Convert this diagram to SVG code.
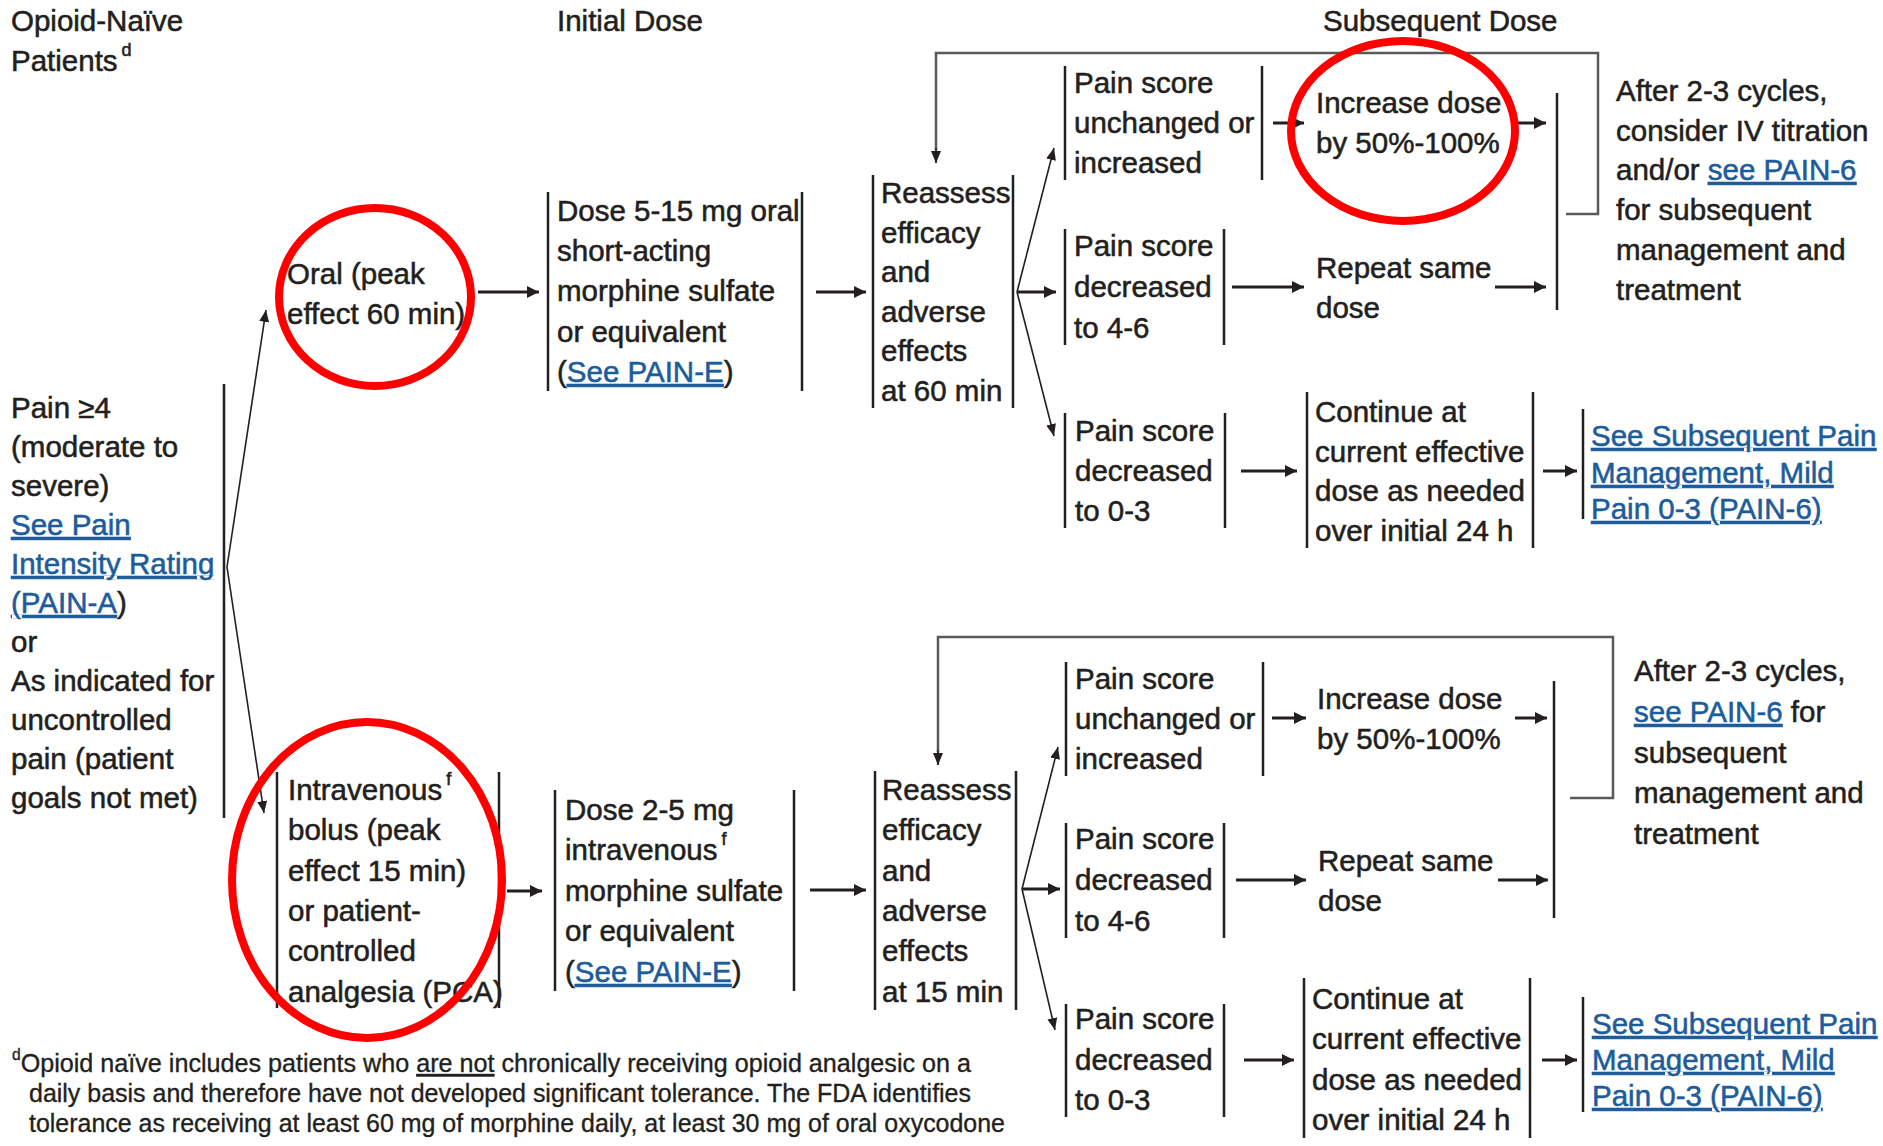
<svg xmlns="http://www.w3.org/2000/svg" width="1883" height="1146" viewBox="0 0 1883 1146">
<style>
text{font-family:"Liberation Sans",Arial,sans-serif;font-size:29.5px;fill:#231f20;stroke:#231f20;stroke-width:0.55px;}
.lk{fill:#1d5c9b;stroke:#1d5c9b;text-decoration:underline;}
.sup{font-size:18px;}
.fn{font-size:25.8px;stroke-width:0.35px;}
.ul{text-decoration:underline;}
.bar{stroke:#231f20;stroke-width:2.5;fill:none;}
.arr{stroke:#231f20;stroke-width:3;fill:none;marker-end:url(#ah);}
.thin{stroke:#231f20;stroke-width:1.6;fill:none;marker-end:url(#ahs);}
.loop{stroke:#58595b;stroke-width:2.5;fill:none;}
.loopa{stroke:#3a3a3a;stroke-width:2.2;fill:none;marker-end:url(#ahs);}
.red{fill:none;stroke:#ff0000;stroke-width:8;}
</style>
<defs>
<marker id="ah" viewBox="0 0 12 12" refX="12" refY="6" markerWidth="12" markerHeight="12" orient="auto" markerUnits="userSpaceOnUse"><path d="M0,0 L12,6 L0,12 z" fill="#231f20"/></marker>
<marker id="ahs" viewBox="0 0 12 10" refX="12" refY="5" markerWidth="12" markerHeight="10" orient="auto" markerUnits="userSpaceOnUse"><path d="M0,0 L12,5 L0,10 z" fill="#231f20"/></marker>
</defs>
<rect width="1883" height="1146" fill="#fff"/>

<g id="headers">
<text x="11" y="31">Opioid-Naïve</text>
<text x="11" y="71">Patients<tspan class="sup" dx="4" dy="-15">d</tspan></text>
<text x="557" y="31">Initial Dose</text>
<text x="1323" y="31">Subsequent Dose</text>
</g>

<g id="connectors">
<path class="loop" d="M1566,214 H1598 V53 H936 V150"/>
<line class="loopa" x1="936" y1="148" x2="936" y2="163"/>
<path class="loop" d="M1570,798 H1613 V637 H938 V752"/>
<line class="loopa" x1="938" y1="750" x2="938" y2="765"/>

<line class="thin" x1="227" y1="567" x2="266" y2="310"/>
<line class="thin" x1="227" y1="567" x2="264" y2="813"/>

<line class="arr" x1="478" y1="292" x2="539" y2="292"/>
<line class="arr" x1="816" y1="292" x2="866" y2="292"/>
<line class="thin" x1="1017" y1="292" x2="1054" y2="148"/>
<line class="arr" x1="1017" y1="292" x2="1056" y2="292"/>
<line class="thin" x1="1017" y1="292" x2="1054" y2="436"/>
<line class="arr" x1="1273" y1="123" x2="1304" y2="123"/>
<line class="arr" x1="1511" y1="123" x2="1546" y2="123"/>
<line class="arr" x1="1232" y1="287" x2="1304" y2="287"/>
<line class="arr" x1="1495" y1="287" x2="1546" y2="287"/>
<line class="arr" x1="1241" y1="471" x2="1297" y2="471"/>
<line class="arr" x1="1543" y1="471" x2="1577" y2="471"/>

<line class="arr" x1="507" y1="891" x2="542" y2="891"/>
<line class="arr" x1="810" y1="890" x2="866" y2="890"/>
<line class="thin" x1="1022" y1="889" x2="1058" y2="747"/>
<line class="arr" x1="1022" y1="889" x2="1060" y2="889"/>
<line class="thin" x1="1022" y1="889" x2="1055" y2="1030"/>
<line class="arr" x1="1272" y1="718" x2="1306" y2="718"/>
<line class="arr" x1="1515" y1="718" x2="1547" y2="718"/>
<line class="arr" x1="1236" y1="880" x2="1306" y2="880"/>
<line class="arr" x1="1498" y1="880" x2="1548" y2="880"/>
<line class="arr" x1="1244" y1="1060" x2="1294" y2="1060"/>
<line class="arr" x1="1542" y1="1060" x2="1577" y2="1060"/>
</g>

<g id="pain">
<line class="bar" x1="224" y1="384" x2="224" y2="818"/>
<text x="11" y="418">Pain ≥4</text>
<text x="11" y="457">(moderate to</text>
<text x="11" y="496">severe)</text>
<text x="11" y="535" class="lk">See Pain</text>
<text x="11" y="574" class="lk">Intensity Rating</text>
<text x="11" y="613"><tspan class="lk">(PAIN-A</tspan>)</text>
<text x="11" y="652">or</text>
<text x="11" y="691">As indicated for</text>
<text x="11" y="730">uncontrolled</text>
<text x="11" y="769">pain (patient</text>
<text x="11" y="808">goals not met)</text>
</g>

<g id="oral">
<text x="287" y="284">Oral (peak</text>
<text x="287" y="324">effect 60 min)</text>
<ellipse class="red" cx="375" cy="297" rx="96" ry="89"/>
</g>

<g id="dose1">
<line class="bar" x1="548" y1="192" x2="548" y2="391"/>
<line class="bar" x1="802" y1="192" x2="802" y2="391"/>
<text x="557" y="221">Dose 5-15 mg oral</text>
<text x="557" y="261">short-acting</text>
<text x="557" y="301">morphine sulfate</text>
<text x="557" y="342">or equivalent</text>
<text x="557" y="382">(<tspan class="lk">See PAIN-E</tspan>)</text>
</g>

<g id="reassess1">
<line class="bar" x1="873" y1="175" x2="873" y2="408"/>
<line class="bar" x1="1013" y1="175" x2="1013" y2="408"/>
<text x="881" y="203">Reassess</text>
<text x="881" y="242.5">efficacy</text>
<text x="881" y="282">and</text>
<text x="881" y="321.5">adverse</text>
<text x="881" y="361">effects</text>
<text x="881" y="400.5">at 60 min</text>
</g>

<g id="unchanged1">
<line class="bar" x1="1065" y1="66" x2="1065" y2="180"/>
<line class="bar" x1="1262" y1="66" x2="1262" y2="180"/>
<text x="1074" y="93">Pain score</text>
<text x="1074" y="133">unchanged or</text>
<text x="1074" y="173">increased</text>
</g>

<g id="dec46-1">
<line class="bar" x1="1065" y1="229" x2="1065" y2="345"/>
<line class="bar" x1="1224" y1="229" x2="1224" y2="345"/>
<text x="1074" y="256">Pain score</text>
<text x="1074" y="297">decreased</text>
<text x="1074" y="338">to 4-6</text>
</g>

<g id="dec03-1">
<line class="bar" x1="1065" y1="413" x2="1065" y2="528"/>
<line class="bar" x1="1225" y1="413" x2="1225" y2="528"/>
<text x="1075" y="441">Pain score</text>
<text x="1075" y="481">decreased</text>
<text x="1075" y="521">to 0-3</text>
</g>

<g id="increase1">
<text x="1316" y="113">Increase dose</text>
<text x="1316" y="153">by 50%-100%</text>
<ellipse class="red" cx="1403" cy="131" rx="112" ry="90"/>
</g>

<g id="repeat1">
<text x="1316" y="278">Repeat same</text>
<text x="1316" y="318">dose</text>
</g>

<g id="collect1">
<line class="bar" x1="1557" y1="93" x2="1557" y2="310"/>
</g>

<g id="after1">
<text x="1616" y="101">After 2-3 cycles,</text>
<text x="1616" y="141">consider IV titration</text>
<text x="1616" y="180">and/or <tspan class="lk">see PAIN-6</tspan></text>
<text x="1616" y="220">for subsequent</text>
<text x="1616" y="260">management and</text>
<text x="1616" y="300">treatment</text>
</g>

<g id="continue1">
<line class="bar" x1="1307" y1="392" x2="1307" y2="548"/>
<line class="bar" x1="1533" y1="392" x2="1533" y2="548"/>
<text x="1315" y="422">Continue at</text>
<text x="1315" y="462">current effective</text>
<text x="1315" y="501">dose as needed</text>
<text x="1315" y="541">over initial 24 h</text>
</g>

<g id="see1">
<line class="bar" x1="1583" y1="409" x2="1583" y2="519"/>
<text x="1591" y="446" class="lk">See Subsequent Pain</text>
<text x="1591" y="483" class="lk">Management, Mild</text>
<text x="1591" y="519" class="lk">Pain 0-3 (PAIN-6)</text>
</g>

<g id="iv">
<line class="bar" x1="277" y1="772" x2="277" y2="1008"/>
<line class="bar" x1="499" y1="772" x2="499" y2="1008"/>
<text x="288" y="800">Intravenous<tspan class="sup" dx="4" dy="-15">f</tspan></text>
<text x="288" y="840">bolus (peak</text>
<text x="288" y="881">effect 15 min)</text>
<text x="288" y="921">or patient-</text>
<text x="288" y="961">controlled</text>
<text x="288" y="1002">analgesia (PCA)</text>
<ellipse class="red" cx="367" cy="880" rx="135" ry="158"/>
</g>

<g id="dose2">
<line class="bar" x1="555" y1="790" x2="555" y2="991"/>
<line class="bar" x1="794" y1="790" x2="794" y2="991"/>
<text x="565" y="820">Dose 2-5 mg</text>
<text x="565" y="860">intravenous<tspan class="sup" dx="4" dy="-15">f</tspan></text>
<text x="565" y="901">morphine sulfate</text>
<text x="565" y="941">or equivalent</text>
<text x="565" y="982">(<tspan class="lk">See PAIN-E</tspan>)</text>
</g>

<g id="reassess2">
<line class="bar" x1="875" y1="771" x2="875" y2="1010"/>
<line class="bar" x1="1016" y1="771" x2="1016" y2="1010"/>
<text x="882" y="800">Reassess</text>
<text x="882" y="840">efficacy</text>
<text x="882" y="881">and</text>
<text x="882" y="921">adverse</text>
<text x="882" y="961">effects</text>
<text x="882" y="1002">at 15 min</text>
</g>

<g id="unchanged2">
<line class="bar" x1="1066" y1="662" x2="1066" y2="776"/>
<line class="bar" x1="1263" y1="662" x2="1263" y2="776"/>
<text x="1075" y="689">Pain score</text>
<text x="1075" y="729">unchanged or</text>
<text x="1075" y="769">increased</text>
</g>

<g id="dec46-2">
<line class="bar" x1="1066" y1="823" x2="1066" y2="938"/>
<line class="bar" x1="1224" y1="823" x2="1224" y2="938"/>
<text x="1075" y="849">Pain score</text>
<text x="1075" y="890">decreased</text>
<text x="1075" y="931">to 4-6</text>
</g>

<g id="dec03-2">
<line class="bar" x1="1066" y1="1004" x2="1066" y2="1117"/>
<line class="bar" x1="1224" y1="1004" x2="1224" y2="1117"/>
<text x="1075" y="1029">Pain score</text>
<text x="1075" y="1070">decreased</text>
<text x="1075" y="1110">to 0-3</text>
</g>

<g id="increase2">
<text x="1317" y="709">Increase dose</text>
<text x="1317" y="749">by 50%-100%</text>
</g>

<g id="repeat2">
<text x="1318" y="871">Repeat same</text>
<text x="1318" y="911">dose</text>
</g>

<g id="collect2">
<line class="bar" x1="1554" y1="681" x2="1554" y2="918"/>
</g>

<g id="after2">
<text x="1634" y="681">After 2-3 cycles,</text>
<text x="1634" y="722"><tspan class="lk">see PAIN-6</tspan> for</text>
<text x="1634" y="763">subsequent</text>
<text x="1634" y="803">management and</text>
<text x="1634" y="844">treatment</text>
</g>

<g id="continue2">
<line class="bar" x1="1304" y1="978" x2="1304" y2="1138"/>
<line class="bar" x1="1530" y1="978" x2="1530" y2="1138"/>
<text x="1312" y="1009">Continue at</text>
<text x="1312" y="1049">current effective</text>
<text x="1312" y="1090">dose as needed</text>
<text x="1312" y="1130">over initial 24 h</text>
</g>

<g id="see2">
<line class="bar" x1="1583" y1="997" x2="1583" y2="1112"/>
<text x="1592" y="1034" class="lk">See Subsequent Pain</text>
<text x="1592" y="1070" class="lk">Management, Mild</text>
<text x="1592" y="1106" class="lk">Pain 0-3 (PAIN-6)</text>
</g>

<g id="footnote">
<text x="12" y="1072" class="fn" textLength="959" lengthAdjust="spacingAndGlyphs"><tspan font-size="16px" dy="-12">d</tspan><tspan dy="12">Opioid naïve includes patients who </tspan><tspan class="ul">are not</tspan> chronically receiving opioid analgesic on a</text>
<text x="29" y="1102" class="fn" textLength="942" lengthAdjust="spacingAndGlyphs">daily basis and therefore have not developed significant tolerance. The FDA identifies</text>
<text x="29" y="1132" class="fn" textLength="976" lengthAdjust="spacingAndGlyphs">tolerance as receiving at least 60 mg of morphine daily, at least 30 mg of oral oxycodone</text>
</g>
</svg>
